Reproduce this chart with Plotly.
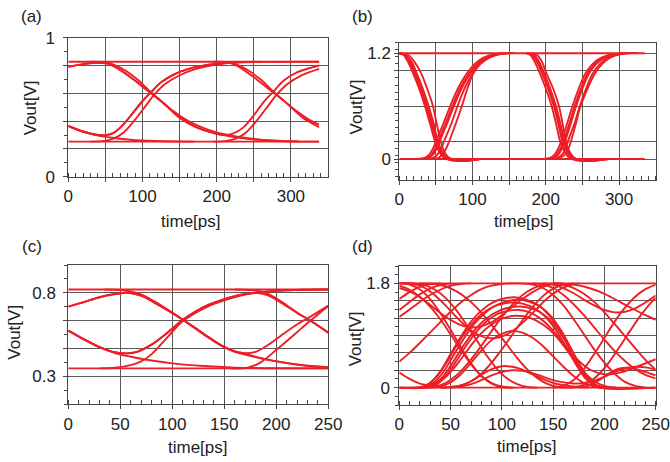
import plotly.graph_objects as go

W, H = 670, 462
FONT = "Liberation Sans, Arial, sans-serif"
RED = "rgb(237,30,38)"
GRID = "rgb(90,90,90)"
FRAME = "rgb(70,70,70)"

# ---------------- panel (a) : time [ps], Vout [V] ----------------
a_high = [(0, 0.827), (338, 0.827)]
a_low = [(0, 0.252), (338, 0.252)]
a_fall_rise = [(0, 0.79), (20, 0.81), (40, 0.82), (52, 0.815), (65, 0.785), (88, 0.70), (108, 0.615),
               (128, 0.53), (150, 0.425), (173, 0.355), (195, 0.315), (209, 0.30), (222, 0.31),
               (236, 0.355), (249, 0.435), (263, 0.535), (276, 0.61), (290, 0.69), (308, 0.75), (338, 0.80)]
a_fall_stay = [(0, 0.79), (20, 0.81), (40, 0.82), (52, 0.815), (65, 0.785), (88, 0.70), (108, 0.615),
               (128, 0.53), (150, 0.425), (173, 0.355), (195, 0.315), (209, 0.30), (225, 0.285),
               (245, 0.27), (270, 0.26), (300, 0.254), (338, 0.252)]
a_rise_fall = [(0, 0.365), (20, 0.325), (38, 0.302), (50, 0.298), (61, 0.315), (74, 0.375), (88, 0.465),
               (101, 0.55), (112, 0.61), (124, 0.675), (142, 0.735), (160, 0.772), (178, 0.795),
               (200, 0.813), (218, 0.818), (231, 0.787), (254, 0.70), (274, 0.615), (294, 0.53),
               (316, 0.425), (338, 0.357)]
a_rise_stay = [(0, 0.365), (20, 0.325), (38, 0.302), (50, 0.298), (61, 0.315), (74, 0.375), (88, 0.465),
               (101, 0.55), (112, 0.61), (124, 0.675), (142, 0.735), (160, 0.772), (178, 0.795),
               (200, 0.813), (225, 0.822), (260, 0.826), (338, 0.827)]
a_decay = [(0, 0.365), (20, 0.322), (40, 0.296), (60, 0.28), (80, 0.268), (100, 0.26), (130, 0.255), (170, 0.252)]
a_low_rise1 = [(30, 0.252), (45, 0.256), (60, 0.272), (75, 0.32), (90, 0.41), (105, 0.515), (115, 0.585),
               (130, 0.665), (150, 0.73), (170, 0.772), (190, 0.798), (210, 0.814), (235, 0.824), (260, 0.827)]
a_low_rise2 = [(195, 0.252), (210, 0.256), (225, 0.272), (240, 0.32), (255, 0.41), (270, 0.515), (280, 0.585),
               (295, 0.665), (315, 0.73), (338, 0.775)]
a_high_fall1 = [(30, 0.827), (48, 0.824), (62, 0.805), (78, 0.76), (94, 0.695), (110, 0.615), (126, 0.54),
                (142, 0.47), (160, 0.405), (180, 0.355), (200, 0.318), (220, 0.295), (245, 0.275),
                (275, 0.26), (310, 0.253)]
a_high_fall2 = [(195, 0.827), (214, 0.824), (228, 0.805), (244, 0.76), (260, 0.695), (276, 0.615),
                (292, 0.54), (308, 0.47), (326, 0.405), (338, 0.375)]

# ---------------- panel (b) ----------------
b_high = [(0, 1.2), (335, 1.2)]
b_low = [(0, 0.0), (335, 0.0)]
b_fall_v = [1.20, 1.18, 1.10, 0.97, 0.80, 0.60, 0.40, 0.22, 0.09, 0.02, -0.01, -0.02, 0.0]
b_rise_v = [0.0, 0.01, 0.05, 0.12, 0.22, 0.40, 0.59, 0.80, 0.97, 1.08, 1.15, 1.19, 1.205]
b_fall1_t = [
    [0, 6, 12, 19, 27, 35, 42, 48, 54, 60, 68, 85, 110],
    [0, 7, 14, 21, 29, 37, 44, 50, 56, 62, 70, 87, 110],
    [0, 8, 15, 22, 30, 38, 45, 51, 57, 63, 71, 88, 110],
    [0, 9, 17, 24, 32, 40, 47, 52, 58, 64, 72, 89, 110],
    [0, 12, 21, 30, 38, 46, 51, 56, 61, 67, 76, 92, 110],
]
b_rise1_t = [
    [20, 34, 41, 46, 51, 60, 69, 80, 92, 103, 115, 130, 150],
    [23, 37, 44, 49, 54, 63, 72, 83, 95, 106, 118, 133, 152],
    [25, 39, 46, 51, 56, 65, 74, 85, 97, 108, 120, 135, 154],
    [30, 45, 52, 57, 62, 71, 79, 89, 100, 110, 122, 137, 156],
    [36, 52, 59, 64, 69, 77, 85, 93, 101, 111, 123, 138, 158],
]
b_fall2_t = [
    [173, 179, 185, 192, 200, 208, 214, 219, 225, 231, 239, 256, 280],
    [175, 181, 188, 195, 203, 211, 217, 222, 228, 234, 242, 259, 282],
    [176, 182, 189, 196, 204, 212, 218, 223, 229, 235, 243, 260, 283],
    [177, 184, 191, 198, 206, 214, 220, 225, 231, 237, 245, 262, 285],
    [180, 188, 195, 201, 210, 218, 223, 227, 232, 238, 246, 263, 286],
]
b_rise2_t = [
    [192, 205, 212, 217, 222, 229, 236, 245, 254, 264, 276, 292, 315],
    [195, 208, 215, 220, 225, 232, 239, 248, 257, 267, 279, 295, 318],
    [197, 210, 217, 222, 227, 234, 241, 250, 259, 269, 281, 297, 320],
    [202, 215, 222, 227, 231, 239, 246, 255, 264, 274, 285, 300, 322],
    [205, 218, 226, 231, 235, 241, 247, 257, 267, 277, 288, 303, 325],
]

# ---------------- panel (c) ----------------
c_high = [(0, 0.82), (250, 0.82)]
c_low = [(0, 0.348), (250, 0.348)]
c_arc_rise = [(0, 0.718), (15, 0.745), (30, 0.774), (45, 0.793), (58, 0.80), (70, 0.783), (82, 0.745),
              (95, 0.698), (108, 0.648), (121, 0.594), (134, 0.538), (147, 0.486), (158, 0.454),
              (169, 0.439), (180, 0.447), (192, 0.488), (208, 0.56), (221, 0.615), (232, 0.655), (250, 0.724)]
c_arc_stay = [(0, 0.718), (15, 0.745), (30, 0.774), (45, 0.793), (58, 0.80), (70, 0.783), (82, 0.745),
              (95, 0.698), (108, 0.648), (121, 0.594), (134, 0.538), (147, 0.486), (158, 0.452),
              (169, 0.432), (182, 0.413), (195, 0.396), (210, 0.381), (230, 0.364), (250, 0.354)]
c_low_fall = [(0, 0.574), (15, 0.522), (30, 0.475), (43, 0.447), (55, 0.438), (66, 0.447), (80, 0.49),
              (95, 0.56), (108, 0.628), (121, 0.683), (134, 0.727), (150, 0.763), (165, 0.788),
              (180, 0.80), (192, 0.785), (208, 0.728), (221, 0.676), (232, 0.638), (250, 0.562)]
c_low_stay = [(0, 0.574), (15, 0.522), (30, 0.475), (43, 0.447), (55, 0.438), (66, 0.447), (80, 0.49),
              (95, 0.56), (108, 0.628), (121, 0.683), (134, 0.727), (150, 0.763), (165, 0.788),
              (180, 0.80), (195, 0.81), (215, 0.817), (250, 0.82)]
c_decay = [(0, 0.574), (15, 0.522), (30, 0.475), (45, 0.44), (60, 0.418), (80, 0.395), (100, 0.378),
           (130, 0.362), (160, 0.353), (200, 0.349), (250, 0.348)]
c_rise1 = [(30, 0.348), (45, 0.352), (60, 0.368), (70, 0.39), (80, 0.432), (95, 0.532), (108, 0.62),
           (121, 0.675), (134, 0.718), (150, 0.755), (165, 0.782), (180, 0.80), (200, 0.812),
           (225, 0.819), (250, 0.82)]
c_fall1 = [(35, 0.82), (50, 0.817), (62, 0.805), (72, 0.785), (84, 0.745), (96, 0.698), (108, 0.648),
           (121, 0.592), (134, 0.536), (147, 0.485), (160, 0.452), (172, 0.433), (185, 0.41),
           (200, 0.39), (220, 0.37), (250, 0.355)]
c_rise2 = [(155, 0.348), (172, 0.352), (185, 0.384), (201, 0.464), (218, 0.554), (232, 0.63), (250, 0.722)]
c_fall2 = [(160, 0.82), (175, 0.817), (187, 0.805), (198, 0.775), (210, 0.726), (221, 0.678),
           (232, 0.637), (250, 0.562)]

# ---------------- panel (d) ----------------
d_top = [(0, 1.8), (250, 1.8)]
d_bot = [(0, 0.0), (250, 0.0)]
d_h1 = [(0, 0), (20, 0), (30, 0.08), (40, 0.28), (50, 0.58), (60, 0.88), (70, 1.14), (80, 1.33), (90, 1.46),
        (100, 1.53), (112, 1.56), (124, 1.52), (135, 1.43), (145, 1.27), (155, 1.02), (165, 0.70),
        (175, 0.37), (185, 0.10), (195, 0.0), (250, 0.0)]
d_h2 = [(0, 0), (23, 0), (33, 0.08), (43, 0.27), (53, 0.56), (63, 0.85), (73, 1.10), (83, 1.28), (93, 1.41),
        (103, 1.48), (115, 1.52), (127, 1.48), (138, 1.39), (148, 1.23), (158, 0.98), (168, 0.66),
        (178, 0.34), (188, 0.09), (198, 0), (250, 0)]
d_h3 = [(0, 0), (15, 0), (25, 0.03), (35, 0.16), (45, 0.40), (55, 0.70), (65, 0.97), (75, 1.18), (85, 1.33),
        (95, 1.42), (108, 1.47), (120, 1.45), (132, 1.37), (142, 1.23), (152, 1.01), (162, 0.72),
        (172, 0.41), (182, 0.15), (192, 0.03), (205, 0)]
d_h4 = [(10, 0), (22, 0), (32, 0.04), (42, 0.18), (52, 0.43), (62, 0.71), (72, 0.96), (82, 1.15), (92, 1.28),
        (104, 1.37), (118, 1.40), (130, 1.36), (140, 1.27), (150, 1.11), (160, 0.86), (170, 0.55),
        (180, 0.24), (190, 0.06), (200, 0.0)]
d_h5 = [(15, 0), (27, 0), (37, 0.06), (47, 0.24), (57, 0.50), (67, 0.77), (77, 1.00), (87, 1.17), (97, 1.28),
        (107, 1.33), (117, 1.34), (127, 1.30), (137, 1.20), (147, 1.04), (157, 0.83), (167, 0.61),
        (177, 0.43), (187, 0.30), (200, 0.23), (215, 0.26), (230, 0.35), (250, 0.49)]
d_h6 = [(0, 0.26), (10, 0.15), (20, 0.07), (30, 0.05), (40, 0.11), (50, 0.27), (60, 0.49), (70, 0.73),
        (80, 0.94), (90, 1.09), (100, 1.19), (114, 1.24), (128, 1.20), (140, 1.09), (150, 0.94),
        (160, 0.73), (170, 0.49), (180, 0.27), (190, 0.11), (200, 0.03), (212, 0)]
d_h7 = [(30, 0), (40, 0.02), (50, 0.09), (60, 0.23), (70, 0.43), (80, 0.64), (90, 0.82), (100, 0.93),
        (110, 0.98), (120, 0.95), (130, 0.86), (140, 0.72), (150, 0.54), (160, 0.36), (170, 0.20),
        (180, 0.08), (190, 0.02), (200, 0)]
d_h8 = [(40, 0), (50, 0.01), (60, 0.04), (70, 0.11), (80, 0.22), (90, 0.32), (100, 0.37), (110, 0.36),
        (120, 0.31), (130, 0.23), (140, 0.15), (150, 0.08), (160, 0.04), (170, 0.02), (185, 0.0)]
d_h9 = [(50, 0), (60, 0.02), (70, 0.06), (80, 0.13), (90, 0.21), (100, 0.27), (110, 0.30), (120, 0.29),
        (130, 0.25), (140, 0.19), (150, 0.13), (160, 0.09), (170, 0.07), (180, 0.08), (190, 0.12),
        (200, 0.19), (210, 0.27), (220, 0.33), (230, 0.36), (240, 0.35), (250, 0.31)]
d_f1 = [(0, 1.8), (10, 1.78), (20, 1.70), (30, 1.53), (40, 1.29), (50, 1.00), (60, 0.70), (70, 0.42),
        (80, 0.20), (90, 0.07), (100, 0.01), (112, 0)]
d_f2 = [(0, 1.76), (10, 1.69), (20, 1.57), (30, 1.40), (40, 1.18), (50, 0.92), (60, 0.65), (70, 0.40),
        (80, 0.20), (90, 0.08), (100, 0.02), (110, 0)]
d_f3 = [(0, 1.8), (15, 1.8), (25, 1.77), (35, 1.69), (45, 1.55), (55, 1.35), (65, 1.10), (75, 0.83),
        (85, 0.56), (95, 0.33), (105, 0.16), (115, 0.06), (125, 0.01), (135, 0)]
d_f4 = [(0, 1.8), (15, 1.79), (25, 1.72), (35, 1.59), (45, 1.42), (55, 1.23), (65, 1.06), (75, 0.93),
        (85, 0.86), (95, 0.86), (105, 0.92), (115, 1.04), (125, 1.20), (135, 1.38), (145, 1.55),
        (155, 1.68), (165, 1.76), (175, 1.80)]
d_f5 = [(0, 1.72), (10, 1.66), (20, 1.56), (30, 1.43), (40, 1.29), (50, 1.17), (60, 1.08), (70, 1.04),
        (80, 1.06), (90, 1.13), (100, 1.25), (110, 1.39), (120, 1.53), (130, 1.65), (140, 1.74),
        (150, 1.79), (160, 1.80)]
d_f6 = [(20, 1.8), (35, 1.79), (45, 1.75), (55, 1.67), (65, 1.55), (75, 1.39), (85, 1.19), (95, 0.97),
        (105, 0.74), (115, 0.51), (125, 0.31), (135, 0.16), (145, 0.06), (155, 0.01), (165, 0)]
d_r1 = [(0, 1.53), (10, 1.65), (20, 1.74), (30, 1.79), (40, 1.8)]
d_r2 = [(0, 1.22), (10, 1.35), (20, 1.48), (30, 1.60), (40, 1.69), (50, 1.76), (60, 1.79), (70, 1.80)]
d_r3 = [(0, 0.45), (10, 0.60), (20, 0.77), (30, 0.95), (40, 1.13), (50, 1.31), (60, 1.47), (70, 1.60),
        (80, 1.70), (90, 1.76), (100, 1.79), (115, 1.80), (130, 1.78), (140, 1.72), (150, 1.60),
        (160, 1.42), (170, 1.18), (180, 0.92), (190, 0.66), (200, 0.43), (210, 0.24), (220, 0.10),
        (230, 0.03), (240, 0)]
d_r4 = [(0, 1.34), (10, 1.48), (20, 1.61), (30, 1.71), (40, 1.77), (50, 1.80)]
d_r5 = [(40, 0), (50, 0.01), (60, 0.04), (70, 0.11), (80, 0.24), (90, 0.43), (100, 0.66), (110, 0.91),
        (120, 1.16), (130, 1.39), (140, 1.58), (150, 1.71), (160, 1.78), (170, 1.80)]
d_r6 = [(25, 0), (35, 0.02), (45, 0.08), (55, 0.20), (65, 0.38), (75, 0.60), (85, 0.85), (95, 1.10),
        (105, 1.33), (115, 1.52), (125, 1.66), (135, 1.75), (145, 1.79), (155, 1.80)]
d_g1 = [(130, 1.8), (140, 1.78), (150, 1.72), (160, 1.60), (170, 1.44), (180, 1.25), (190, 1.04),
        (200, 0.83), (210, 0.63), (220, 0.46), (230, 0.32), (240, 0.22), (250, 0.16)]
d_g2 = [(140, 1.8), (150, 1.78), (160, 1.72), (170, 1.63), (180, 1.52), (190, 1.42), (200, 1.34),
        (210, 1.30), (220, 1.31), (230, 1.37), (240, 1.47), (250, 1.59)]
d_g3 = [(150, 1.8), (160, 1.78), (170, 1.72), (180, 1.62), (190, 1.48), (200, 1.30), (210, 1.10),
        (220, 0.89), (230, 0.68), (240, 0.48), (250, 0.31)]
d_g4 = [(150, 1.8), (170, 1.78), (185, 1.72), (200, 1.62), (215, 1.48), (230, 1.34), (240, 1.25), (250, 1.17)]
d_k1 = [(165, 0), (175, 0.02), (185, 0.09), (195, 0.24), (205, 0.45), (215, 0.71), (225, 0.98),
        (235, 1.24), (245, 1.46), (250, 1.55)]
d_k2 = [(150, 0), (160, 0.03), (170, 0.13), (180, 0.32), (190, 0.58), (200, 0.86), (210, 1.14),
        (220, 1.38), (230, 1.57), (240, 1.70), (250, 1.78)]
d_k3 = [(175, 0), (185, 0.04), (195, 0.13), (205, 0.25), (215, 0.33), (225, 0.34), (235, 0.30),
        (245, 0.24), (250, 0.21)]

# ---------------- axes tick definitions ----------------
ab_x_vals = [0, 50, 100, 150, 200, 250, 300]
ab_x_text = ["0", "", "100", "", "200", "", "300"]
cd_x_vals = [0, 50, 100, 150, 200, 250]
cd_x_text = ["0", "50", "100", "150", "200", "250"]
a_y_vals = [0, 0.2, 0.4, 0.6, 0.8, 1.0]
a_y_text = ["0", "", "", "", "", "1"]
b_y_vals = [0, 0.2, 0.6, 1.0, 1.2]
b_y_text = ["0", "", "", "", "1.2"]
c_y_vals = [0.3, 0.4667, 0.6333, 0.8]
c_y_text = ["0.3", "", "", "0.8"]
d_y_vals = [0, 0.3, 0.6, 0.9, 1.2, 1.5, 1.8]
d_y_text = ["0", "", "", "", "", "", "1.8"]

fig = go.Figure()


def add_curves(curves, xa, ya):
    for c in curves:
        xs = [p[0] for p in c]
        ys = [p[1] for p in c]
        shape = "linear" if len(c) == 2 else "spline"
        fig.add_trace(go.Scatter(x=xs, y=ys, mode="lines", xaxis=xa, yaxis=ya,
                                 line=dict(color=RED, width=1.9, shape=shape, smoothing=0.9),
                                 hoverinfo="skip", showlegend=False))


add_curves([a_high, a_low, a_fall_rise, a_fall_stay, a_rise_fall, a_rise_stay, a_decay,
            a_low_rise1, a_low_rise2, a_high_fall1, a_high_fall2], "x", "y")
b_curves = [b_high, b_low]
for group, vals in ((b_fall1_t, b_fall_v), (b_rise1_t, b_rise_v), (b_fall2_t, b_fall_v), (b_rise2_t, b_rise_v)):
    for ts in group:
        b_curves.append(list(zip(ts, vals)))
add_curves(b_curves, "x2", "y2")
add_curves([c_high, c_low, c_arc_rise, c_arc_stay, c_low_fall, c_low_stay, c_decay, c_rise1,
            c_fall1, c_rise2, c_fall2], "x3", "y3")
add_curves([d_top, d_bot, d_h1, d_h2, d_h3, d_h4, d_h5, d_h6, d_h7, d_h8, d_h9, d_f1, d_f2, d_f3,
            d_f4, d_f5, d_f6, d_r1, d_r2, d_r3, d_r4, d_r5, d_r6, d_g1, d_g2, d_g3, d_g4,
            d_k1, d_k2, d_k3], "x4", "y4")


def xdom(l, r):
    return [l / W, r / W]


def ydom(t, b):
    return [1 - b / H, 1 - t / H]


common = dict(showline=True, mirror=True, linecolor=FRAME, linewidth=1, showgrid=True,
              gridcolor=GRID, gridwidth=1, zeroline=False, ticks="outside", ticklen=4,
              tickcolor=FRAME, tickfont=dict(family=FONT, size=17, color="#222"),
              fixedrange=True, automargin=False, tickmode="array")


def xaxis(dom, rng, vals, text, anchor):
    return dict(common, domain=dom, range=rng, tickvals=vals, ticktext=text, anchor=anchor,
                minor=dict(dtick=10, tick0=0, ticks="inside", ticklen=4, tickcolor=FRAME, showgrid=False))


def yaxis(dom, rng, vals, text, anchor, mdt, m0, standoff):
    return dict(common, domain=dom, range=rng, tickvals=vals, ticktext=text, anchor=anchor,
                ticklabelstandoff=standoff,
                minor=dict(dtick=mdt, tick0=m0, ticks="outside", ticklen=3, tickcolor=FRAME, showgrid=False))


fig.update_layout(
    width=W, height=H, margin=dict(l=0, r=0, t=0, b=0),
    paper_bgcolor="white", plot_bgcolor="white", showlegend=False,
    xaxis=xaxis(xdom(68.3, 328), [0, 350], ab_x_vals, ab_x_text, "y"),
    yaxis=yaxis(ydom(37.7, 176.7), [0, 1], a_y_vals, a_y_text, "x", 0.1, 0, 5),
    xaxis2=xaxis(xdom(399.3, 655.7), [0, 350], ab_x_vals, ab_x_text, "y2"),
    yaxis2=yaxis(ydom(42.7, 180), [-0.238, 1.32], b_y_vals, b_y_text, "x2", 0.08, 0.2, 0),
    xaxis3=xaxis(xdom(68.3, 328.3), [0, 250], cd_x_vals, cd_x_text, "y3"),
    yaxis3=yaxis(ydom(265, 404.3), [0.1333, 0.9667], c_y_vals, c_y_text, "x3", 0.08333, 0.3, 4),
    xaxis4=xaxis(xdom(399.3, 655.7), [0, 250], cd_x_vals, cd_x_text, "y4"),
    yaxis4=yaxis(ydom(266, 405), [-0.3, 2.1], d_y_vals, d_y_text, "x4", 0.15, 0, 1),
)

labels = [
    ("(a)", 31.7, 16.3, 0), ("Vout[V]", 30, 108.3, -90), ("time[ps]", 191, 221.7, 0),
    ("(b)", 362, 16.3, 0), ("Vout[V]", 356.7, 106.7, -90), ("time[ps]", 523.5, 221.7, 0),
    ("(c)", 31.7, 246.8, 0), ("Vout[V]", 15, 332.7, -90), ("time[ps]", 197.5, 447.7, 0),
    ("(d)", 362, 246.8, 0), ("Vout[V]", 355, 339.3, -90), ("time[ps]", 526.5, 446.3, 0),
]
for text, px, py, ang in labels:
    fig.add_annotation(text=text, x=px / W, y=1 - py / H, xref="paper", yref="paper",
                       showarrow=False, textangle=ang, xanchor="center", yanchor="middle",
                       font=dict(family=FONT, size=17, color="#222"))

fig.write_html("out.html", config={"displayModeBar": False, "staticPlot": True},
               post_script="document.body.style.margin='0px';")
